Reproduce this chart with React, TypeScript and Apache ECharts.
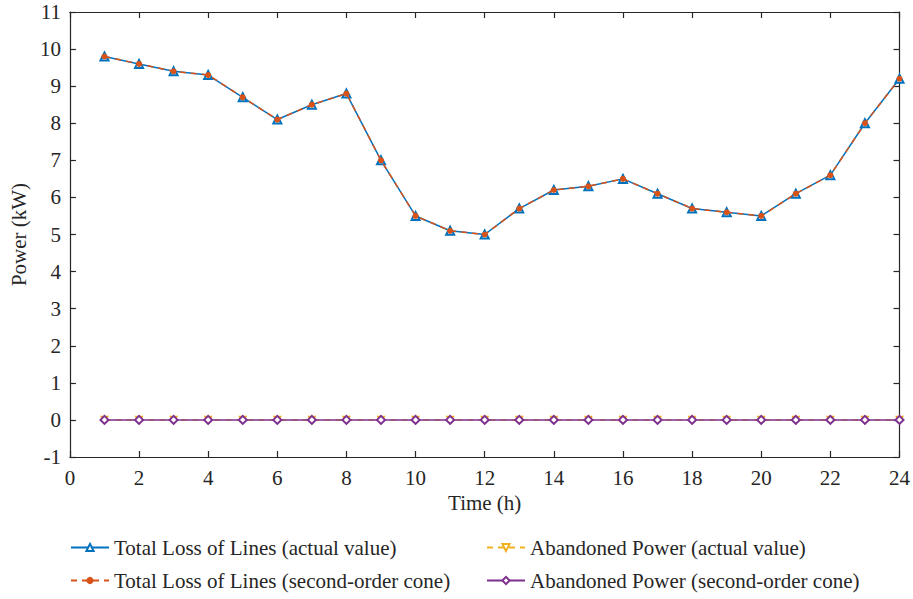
import React, { useEffect, useRef } from "react";
import * as echarts from "echarts";

const hours = [1, 2, 3, 4, 5, 6, 7, 8, 9, 10, 11, 12, 13, 14, 15, 16, 17, 18, 19, 20, 21, 22, 23, 24];
const lossActual = [9.8, 9.6, 9.4, 9.3, 8.7, 8.1, 8.5, 8.8, 7.0, 5.5, 5.1, 5.0, 5.7, 6.2, 6.3, 6.5, 6.1, 5.7, 5.6, 5.5, 6.1, 6.6, 8.0, 9.2];
const lossCone = [9.8, 9.6, 9.4, 9.3, 8.7, 8.1, 8.5, 8.8, 7.0, 5.5, 5.1, 5.0, 5.7, 6.2, 6.3, 6.5, 6.1, 5.7, 5.6, 5.5, 6.1, 6.6, 8.0, 9.2];
const abandonedActual = [0, 0, 0, 0, 0, 0, 0, 0, 0, 0, 0, 0, 0, 0, 0, 0, 0, 0, 0, 0, 0, 0, 0, 0];
const abandonedCone = [0, 0, 0, 0, 0, 0, 0, 0, 0, 0, 0, 0, 0, 0, 0, 0, 0, 0, 0, 0, 0, 0, 0, 0];
const seriesNames = [
  "Total Loss of Lines (actual value)",
  "Total Loss of Lines (second-order cone)",
  "Abandoned Power (actual value)",
  "Abandoned Power (second-order cone)",
];

const FONT = "'Liberation Serif', 'DejaVu Serif', 'Times New Roman', serif";
const FS = 21;
const pairs = (ys: number[]) => hours.map((h, i) => [h, ys[i]]);

export default function App() {
  const ref = useRef<HTMLDivElement>(null);
  useEffect(() => {
    const chart = echarts.init(ref.current!, null, { renderer: "svg" });
    const axisLine = { show: true, onZero: false, lineStyle: { color: "#262626", width: 1.2 } };
    const tickIn = { show: true, inside: true, length: 6, lineStyle: { color: "#262626", width: 1.2 } };
    const labelStyle = { color: "#262626", fontFamily: FONT, fontSize: FS };
    const legendBase = {
      orient: "vertical",
      top: 532,
      itemWidth: 38,
      itemHeight: 9,
      itemGap: 12,
      textStyle: { ...labelStyle },
    };
    chart.setOption({
      animation: false,
      backgroundColor: "#ffffff",
      textStyle: { fontFamily: FONT },
      grid: { left: 67, right: 10, top: 12, bottom: 142, containLabel: false },
      legend: [
        { ...legendBase, data: [seriesNames[0], seriesNames[1]], left: 65 },
        { ...legendBase, data: [seriesNames[2], seriesNames[3]], left: 481 },
      ],
      xAxis: [
        {
          type: "value",
          min: 0,
          max: 24,
          interval: 2,
          position: "bottom",
          name: "Time (h)",
          nameLocation: "middle",
          nameGap: 35,
          nameTextStyle: { ...labelStyle },
          axisLine,
          axisTick: tickIn,
          axisLabel: { ...labelStyle, margin: 10 },
          splitLine: { show: false },
        },
        {
          type: "value",
          min: 0,
          max: 24,
          interval: 2,
          position: "top",
          axisLine,
          axisTick: tickIn,
          axisLabel: { show: false },
          splitLine: { show: false },
        },
      ],
      yAxis: [
        {
          type: "value",
          min: -1,
          max: 11,
          interval: 1,
          position: "left",
          name: "Power (kW)",
          nameLocation: "middle",
          nameGap: 37,
          nameTextStyle: { ...labelStyle },
          axisLine,
          axisTick: tickIn,
          axisLabel: { ...labelStyle, margin: 9 },
          splitLine: { show: false },
        },
        {
          type: "value",
          min: -1,
          max: 11,
          interval: 1,
          position: "right",
          axisLine,
          axisTick: tickIn,
          axisLabel: { show: false },
          splitLine: { show: false },
        },
      ],
      series: [
        {
          name: seriesNames[0],
          type: "line",
          data: pairs(lossActual),
          symbol: "emptyTriangle",
          symbolSize: 8,
          lineStyle: { color: "#0072BD", width: 1.5 },
          itemStyle: { color: "#0072BD", borderColor: "#0072BD", borderWidth: 1.2 },
          z: 2,
        },
        {
          name: seriesNames[1],
          type: "line",
          data: pairs(lossCone),
          symbol: "circle",
          symbolSize: 6,
          lineStyle: { color: "#D95319", width: 1.5, type: [6, 5] },
          itemStyle: { color: "#D95319" },
          z: 3,
        },
        {
          name: seriesNames[2],
          type: "line",
          data: pairs(abandonedActual),
          symbol: "triangle",
          symbolRotate: 180,
          symbolSize: 7,
          lineStyle: { color: "#EDB120", width: 1.5, type: [6, 5] },
          itemStyle: { color: "#ffffff", borderColor: "#EDB120", borderWidth: 1.2 },
          z: 4,
        },
        {
          name: seriesNames[3],
          type: "line",
          data: pairs(abandonedCone),
          symbol: "emptyDiamond",
          symbolSize: 8,
          lineStyle: { color: "#7E2F8E", width: 1.5 },
          itemStyle: { color: "#7E2F8E", borderColor: "#7E2F8E", borderWidth: 1.2 },
          z: 5,
        },
      ],
    });
    return () => chart.dispose();
  }, []);
  return <div ref={ref} style={{ width: 913, height: 599, position: "absolute", left: 0, top: 0 }} />;
}
